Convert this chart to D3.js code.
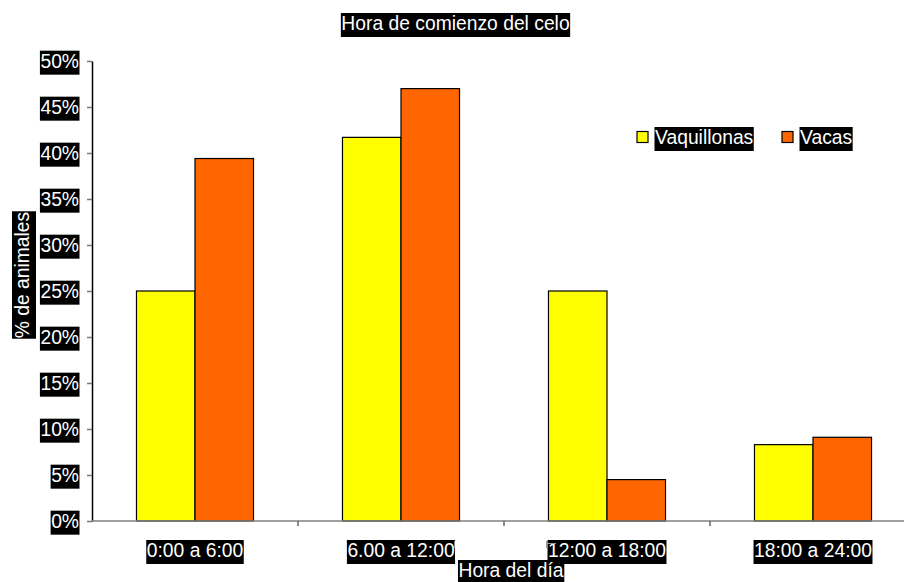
<!DOCTYPE html>
<html><head><meta charset="utf-8">
<script src="https://cdn.jsdelivr.net/npm/d3@7"></script>
<style>body{margin:0;background:#fff}svg{display:block}text{font-family:"Liberation Sans",Arial,sans-serif;}</style>
</head><body>
<svg id="c" width="904" height="582"></svg>
<script>
const categories = ["0:00 a 6:00", "6.00 a 12:00", "12:00 a 18:00", "18:00 a 24:00"];
const seriesNames = ["Vaquillonas", "Vacas"];
const vaquillonas = [0.25, 0.417, 0.25, 0.083];
const vacas = [0.394, 0.47, 0.045, 0.091];
const yTicks = [0, 0.05, 0.10, 0.15, 0.20, 0.25, 0.30, 0.35, 0.40, 0.45, 0.50];
const colors = ["#FFFF00", "#FF6600"];
const title = "Hora de comienzo del celo";
const xTitle = "Hora del día";
const yTitle = "% de animales";

const svg = d3.select("#c");
const L = 92, R = 916, T = 61, B = 521;
const x0 = d3.scaleBand().domain(categories).range([L, R]).padding(0);
const x1 = d3.scaleBand().domain(seriesNames).range([0, x0.bandwidth()]).paddingInner(0).paddingOuter(0.76);
const y = d3.scaleLinear().domain([0, 0.5]).range([B, T]);
const color = d3.scaleOrdinal().domain(seriesNames).range(colors);
const FS = 19.3;

function boxed(sel) {
  sel.each(function() {
    const b = this.getBBox();
    d3.select(this.parentNode).insert("rect", () => this)
      .attr("x", b.x - 0.5).attr("y", b.y).attr("width", b.width + 1).attr("height", b.height + 3)
      .attr("fill", "#000")
      .attr("transform", d3.select(this).attr("transform"));
  });
}

// bars
const data = categories.map((c, i) => ({c, vals: [vaquillonas[i], vacas[i]]}));
const g = svg.append("g");
g.selectAll("g.cat").data(data).join("g").attr("class", "cat")
  .attr("transform", d => `translate(${x0(d.c)},0)`)
  .selectAll("rect").data(d => d.vals.map((v, j) => ({s: seriesNames[j], v})))
  .join("rect")
  .attr("x", d => x1(d.s)).attr("width", x1.bandwidth())
  .attr("y", d => y(d.v)).attr("height", d => B - y(d.v))
  .attr("fill", d => color(d.s)).attr("stroke", "#000").attr("stroke-width", 1.2);

// y axis
const ya = svg.append("g").attr("transform", `translate(${L},0)`)
  .call(d3.axisLeft(y).tickValues(yTicks).tickFormat(d3.format(".0%")).tickSize(5).tickSizeOuter(0).tickPadding(8));
ya.select(".domain").attr("stroke", "#000").attr("stroke-width", 1.5);
ya.selectAll(".tick line").attr("stroke", "#777").attr("stroke-width", 1.5);
ya.selectAll(".tick text").attr("font-size", FS).attr("fill", "#fff")
  .attr("font-family", '"Liberation Sans",Arial,sans-serif');
boxed(ya.selectAll(".tick text"));

// x axis
svg.append("line").attr("x1", L).attr("x2", R).attr("y1", B).attr("y2", B)
  .attr("stroke", "#808080").attr("stroke-width", 1.5);
svg.selectAll("line.xt").data(categories.slice(0, -1)).join("line").attr("class", "xt")
  .attr("x1", d => x0(d) + x0.bandwidth()).attr("x2", d => x0(d) + x0.bandwidth())
  .attr("y1", B).attr("y2", B + 5).attr("stroke", "#666").attr("stroke-width", 1.5);

const xl = svg.append("g");
xl.selectAll("text").data(categories).join("text")
  .attr("x", d => x0(d) + x0.bandwidth() / 2).attr("y", 557)
  .attr("text-anchor", "middle").attr("font-size", FS).attr("fill", "#fff").text(d => d);
boxed(xl.selectAll("text"));

// artifact white box behind axis title
svg.append("rect").attr("x", 455).attr("y", 541).attr("width", 92).attr("height", 19).attr("fill", "#fff");
svg.append("line").attr("x1", 454.5).attr("x2", 454.5).attr("y1", 541).attr("y2", 548).attr("stroke", "#888");
svg.append("line").attr("x1", 546).attr("x2", 556).attr("y1", 543.5).attr("y2", 543.5).attr("stroke", "#999");
svg.append("line").attr("x1", 546.5).attr("x2", 546.5).attr("y1", 541).attr("y2", 548).attr("stroke", "#999");

// titles
const tg = svg.append("g");
tg.append("text").attr("x", 455.5).attr("y", 30).attr("text-anchor", "middle").attr("font-size", FS).attr("fill", "#fff").text(title);
tg.append("text").attr("x", 511).attr("y", 577).attr("text-anchor", "middle").attr("font-size", FS).attr("fill", "#fff").text(xTitle);
tg.append("text").attr("transform", "translate(29,275) rotate(-90)").attr("text-anchor", "middle").attr("font-size", FS).attr("fill", "#fff").text(yTitle);
boxed(tg.selectAll("text"));

// legend
const lg = svg.append("g");
const lx = [637, 782];
seriesNames.forEach((s, i) => {
  lg.append("rect").attr("x", lx[i]).attr("y", 131.5).attr("width", 11).attr("height", 11)
    .attr("fill", color(s)).attr("stroke", "#000").attr("stroke-width", 1.2);
  lg.append("text").attr("class", "lt").attr("x", lx[i] + 18).attr("y", 144).attr("font-size", FS).attr("fill", "#fff").text(s);
});
boxed(lg.selectAll("text.lt"));
</script>
</body></html>
